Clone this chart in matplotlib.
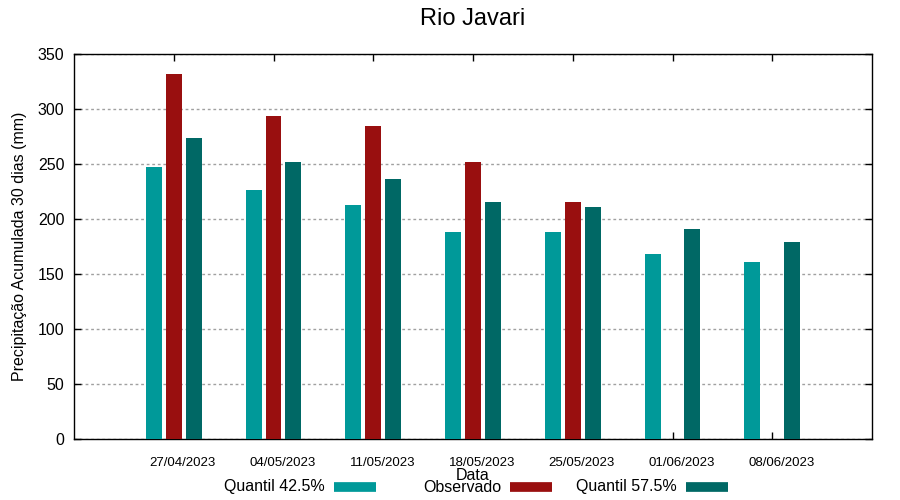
import numpy as np
import matplotlib.pyplot as plt
from matplotlib.lines import Line2D

plt.rcParams['font.family'] = ['Liberation Sans', 'DejaVu Sans']

# --- data ---
dates = ['27/04/2023', '04/05/2023', '11/05/2023', '18/05/2023',
         '25/05/2023', '01/06/2023', '08/06/2023']
q425 = [247, 226, 213, 188, 188, 168, 161]
observado = [332, 294, 285, 252, 215, np.nan, np.nan]
q575 = [274, 252, 236, 215, 211, 191, 179]

series_names = ['Quantil 42.5%', 'Observado', 'Quantil 57.5%']
C_Q425 = '#009999'
C_OBS = '#990f0f'
C_Q575 = '#006865'
colors = [C_Q425, C_OBS, C_Q575]

fig = plt.figure(figsize=(9, 5), dpi=100, facecolor='white')
ax = fig.add_axes([74 / 900, 61 / 500, 798 / 900, 385 / 500])

x = np.arange(len(dates))
w = 0.16
ax.bar(x - 0.20, q425, w, color=C_Q425, zorder=3)
ax.bar(x, observado, w, color=C_OBS, zorder=3)
ax.bar(x + 0.20, q575, w, color=C_Q575, zorder=3)

ax.set_xlim(-1, len(dates))
ax.set_ylim(0, 350)
ax.set_yticks(np.arange(0, 351, 50))
# tick marks at group centre, labels a little to the right (gnuplot style)
ax.set_xticks(x, labels=[])
ax.set_xticks(x + 0.09, labels=dates, minor=True)
ax.tick_params(axis='x', which='minor', length=0, labelsize=9.5, pad=13)

ax.tick_params(axis='both', which='major', direction='in', top=True, right=True,
               length=5, width=1, color='black')
ax.tick_params(axis='y', labelsize=11.5, pad=7)
ax.yaxis.grid(True, linestyle=(0, (2, 2)), color='#a0a0a0', linewidth=1, zorder=0)
ax.xaxis.grid(False)
for s in ax.spines.values():
    s.set_linewidth(1)

ax.set_ylabel('Precipitação Acumulada 30 dias (mm)', fontsize=11.5, labelpad=8)
ax.set_xlabel('Data', fontsize=11.5)
ax.xaxis.set_label_coords(0.5, -0.075)
fig.text(473 / 900, 0.962, 'Rio Javari', fontsize=17, ha='center', va='center')

# gnuplot-like key: text right-aligned, colour sample after it
leg_y = 1 - 487 / 500
for i, (name, col) in enumerate(zip(series_names, colors)):
    x0 = (325 + 176 * i) / 900
    fig.text(x0, leg_y, name, fontsize=11.5, ha='right', va='center')
    fig.add_artist(Line2D([x0 + 9 / 900, x0 + 51 / 900], [leg_y, leg_y],
                          transform=fig.transFigure, color=col, lw=7,
                          solid_capstyle='butt'))

fig.savefig('out.png', dpi=100)
